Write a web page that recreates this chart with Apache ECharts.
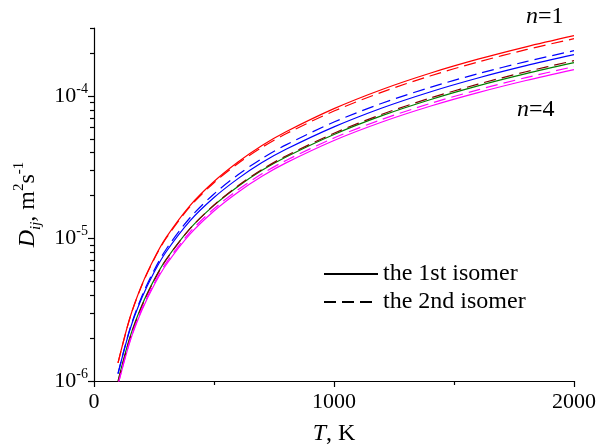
<!DOCTYPE html>
<html>
<head>
<meta charset="utf-8">
<script src="https://cdn.jsdelivr.net/npm/echarts@6/dist/echarts.min.js"></script>
<style>
html, body { margin: 0; padding: 0; background: #fff; }
#chart { width: 600px; height: 445px; }
</style>
</head>
<body>
<div id="chart"></div>
<script>
// temperature grid, K
const temps = [100, 150, 200, 250, 300, 400, 500, 600, 700, 800, 1000, 1200, 1400, 1600, 1800, 2000]

// diffusion coefficients, m2/s (n = 1..4, 1st isomer solid, 2nd isomer dashed)
const n1First  = [1.34e-6, 2.79e-6, 4.75e-6, 7.20e-6, 1.013e-5, 1.70e-5, 2.51e-5, 3.44e-5, 4.49e-5, 5.61e-5, 8.15e-5, 1.111e-4, 1.444e-4, 1.812e-4, 2.214e-4, 2.65e-4]
const n1Second = [1.34e-6, 2.78e-6, 4.72e-6, 7.13e-6, 1.000e-5, 1.673e-5, 2.462e-5, 3.357e-5, 4.361e-5, 5.432e-5, 7.84e-5, 1.065e-4, 1.382e-4, 1.732e-4, 2.113e-4, 2.525e-4]
const n2First  = [1.122e-6, 2.298e-6, 3.850e-6, 5.771e-6, 8.041e-6, 1.330e-5, 1.938e-5, 2.631e-5, 3.412e-5, 4.228e-5, 6.074e-5, 8.240e-5, 1.0675e-4, 1.3374e-4, 1.6315e-4, 1.950e-4]
const n2Second = [1.131e-6, 2.336e-6, 3.957e-6, 5.970e-6, 8.371e-6, 1.398e-5, 2.054e-5, 2.802e-5, 3.645e-5, 4.540e-5, 6.564e-5, 8.890e-5, 1.148e-4, 1.4336e-4, 1.7433e-4, 2.080e-4]
const n3First  = [1.002e-6, 2.036e-6, 3.411e-6, 5.104e-6, 7.101e-6, 1.1727e-5, 1.7088e-5, 2.3196e-5, 3.008e-5, 3.734e-5, 5.372e-5, 7.276e-5, 9.412e-5, 1.1773e-4, 1.4338e-4, 1.7138e-4]
const n3Second = [9.86e-7, 2.003e-6, 3.367e-6, 5.063e-6, 7.066e-6, 1.1727e-5, 1.7171e-5, 2.342e-5, 3.048e-5, 3.795e-5, 5.478e-5, 7.443e-5, 9.659e-5, 1.2102e-4, 1.4787e-4, 1.770e-4]
const n4First  = [9.39e-7, 1.894e-6, 3.146e-6, 4.693e-6, 6.516e-6, 1.0727e-5, 1.5607e-5, 2.1149e-5, 2.734e-5, 3.394e-5, 4.875e-5, 6.572e-5, 8.476e-5, 1.0562e-4, 1.2843e-4, 1.5306e-4]
const n4Second = [9.47e-7, 1.925e-6, 3.224e-6, 4.823e-6, 6.720e-6, 1.1098e-5, 1.6172e-5, 2.1947e-5, 2.842e-5, 3.528e-5, 5.076e-5, 6.853e-5, 8.849e-5, 1.105e-4, 1.3459e-4, 1.6064e-4]

// y axis ticks
const yMajorTicks = [1e-6, 1e-5, 1e-4]
const yMinorTicks = [2e-6, 3e-6, 4e-6, 5e-6, 6e-6, 7e-6, 8e-6, 9e-6,
  2e-5, 3e-5, 4e-5, 5e-5, 6e-5, 7e-5, 8e-5, 9e-5, 2e-4, 3e-4]

const legendNames = ['the 1st isomer', 'the 2nd isomer']

const FONT = '"Liberation Serif", "Times New Roman", serif'
const DASH = [12, 6]

function pairs(values) {
  return temps.map((t, i) => [t, values[i]])
}

function curve(values, color, dashed) {
  return {
    type: 'line',
    data: pairs(values),
    smooth: 0.3,
    symbol: 'none',
    silent: true,
    lineStyle: { color, width: 1.2, type: dashed ? DASH : 'solid' },
    z: dashed ? 3 : 2,
  }
}

function legendSeries(name, type) {
  return {
    name,
    type: 'line',
    data: [],
    symbol: 'none',
    lineStyle: { color: '#000', width: 1.2, type },
    itemStyle: { color: 'rgba(0,0,0,0)', borderWidth: 0, opacity: 0 },
  }
}

const chart = echarts.init(document.getElementById('chart'))

const axisText = { fontFamily: FONT, fontSize: 22, color: '#000' }
const richN = {
  i: { ...axisText, fontStyle: 'italic', fontSize: 24 },
  r: { ...axisText, fontSize: 24 },
}

chart.setOption({
  animation: false,
  backgroundColor: '#fff',
  grid: { left: 94, right: 26, top: 28, bottom: 64, containLabel: false, outerBoundsMode: 'none' },
  legend: {
    data: legendNames,
    orient: 'vertical',
    left: 318,
    top: 257,
    itemWidth: 54,
    itemHeight: 14,
    itemGap: 4,
    textStyle: { fontFamily: FONT, fontSize: 24, color: '#000', padding: [0, 0, 0, 0] },
    itemStyle: { opacity: 0 },
    selectedMode: false,
  },
  xAxis: {
    type: 'value',
    min: 0,
    max: 2000,
    interval: 1000,
    name: '{i|T}{r|, K}',
    nameLocation: 'middle',
    nameGap: 41,
    nameTextStyle: { rich: richN },
    axisLine: { show: true, lineStyle: { color: '#000', width: 1.2 } },
    axisTick: { show: true, length: 6, lineStyle: { color: '#000', width: 1.2 } },
    minorTick: { show: true, splitNumber: 2, length: 4, lineStyle: { color: '#000', width: 1.2 } },
    axisLabel: { ...axisText, margin: 10, formatter: v => String(v) },
    splitLine: { show: false },
  },
  yAxis: [
    {
      type: 'log',
      logBase: 10,
      min: 1e-6,
      max: 3e-4,
      position: 'left',
      name: '{i|D}{sub|ij}{r|, m}{sup|2}{r|s}{sup|-1}',
      nameLocation: 'middle',
      nameRotate: 90,
      nameGap: 50,
      nameTextStyle: {
        rich: {
          i: { ...axisText, fontStyle: 'italic', fontSize: 24, lineHeight: 32 },
          r: { ...axisText, fontSize: 24, lineHeight: 32 },
          sub: { ...axisText, fontStyle: 'italic', fontSize: 15, lineHeight: 12, verticalAlign: 'bottom' },
          sup: { ...axisText, fontSize: 15, lineHeight: 12, verticalAlign: 'top' },
        },
      },
      axisLine: { show: true, lineStyle: { color: '#000', width: 1.2 } },
      axisTick: { show: true, length: 6, customValues: yMajorTicks, lineStyle: { color: '#000', width: 1.2 } },
      axisLabel: {
        customValues: yMajorTicks,
        margin: 6,
        formatter: v => '{b|10}{s|' + Math.round(Math.log10(v)) + '}',
        rich: {
          b: { ...axisText, lineHeight: 28 },
          s: { ...axisText, fontSize: 14, lineHeight: 12, verticalAlign: 'top' },
        },
      },
      splitLine: { show: false },
    },
    {
      type: 'log',
      logBase: 10,
      min: 1e-6,
      max: 3e-4,
      position: 'left',
      axisLine: { show: false },
      axisTick: { show: true, length: 4, customValues: yMinorTicks, lineStyle: { color: '#000', width: 1.2 } },
      axisLabel: { show: false },
      splitLine: { show: false },
    },
  ],
  graphic: [
    { type: 'text', left: 526, top: 5, style: { text: '{i|n}{r|=1}', rich: richN } },
    { type: 'text', left: 517, top: 98, style: { text: '{i|n}{r|=4}', rich: richN } },
  ],
  series: [
    curve(n1First, '#ff0000', false),
    curve(n1Second, '#ff0000', true),
    curve(n2First, '#0000ff', false),
    curve(n2Second, '#0000ff', true),
    curve(n3First, '#008000', false),
    curve(n3Second, '#800000', true),
    curve(n4First, '#ff00ff', false),
    curve(n4Second, '#ff00ff', true),
    legendSeries(legendNames[0], 'solid'),
    legendSeries(legendNames[1], DASH),
  ],
})
</script>
</body>
</html>
